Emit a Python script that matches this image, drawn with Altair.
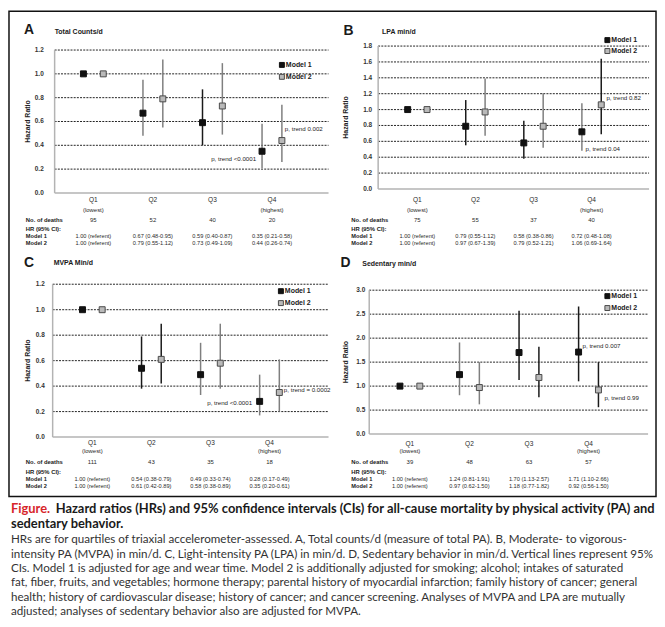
import altair as alt
import pandas as pd

FONT = "Liberation Sans"
CAP_FONT = "Lato"
INK = "#1a1a1a"
MID = "#7f7f7f"
AXIS_GRAY = "#b3b3b3"
OFF = 3  # figure frame sits at this pixel in the reference

quartiles = ["Q1", "Q2", "Q3", "Q4"]
quartile_notes = ["(lowest)", "", "", "(highest)"]
models = ["Model 1", "Model 2"]

# ---- Panel A: Total Counts/d ----
a_deaths = [95, 52, 40, 20]
a_m1_hr = [1.00, 0.67, 0.59, 0.35]
a_m1_lo = [None, 0.48, 0.40, 0.21]
a_m1_hi = [None, 0.95, 0.87, 0.58]
a_m2_hr = [1.00, 0.79, 0.73, 0.44]
a_m2_lo = [None, 0.55, 0.49, 0.26]
a_m2_hi = [None, 1.12, 1.09, 0.74]
a_ticks = [0.0, 0.2, 0.4, 0.6, 0.8, 1.0, 1.2]
a_ptrend = ["p, trend <0.0001", "p, trend 0.002"]

# ---- Panel B: LPA min/d ----
b_deaths = [75, 55, 37, 40]
b_m1_hr = [1.00, 0.79, 0.58, 0.72]
b_m1_lo = [None, 0.55, 0.38, 0.48]
b_m1_hi = [None, 1.12, 0.86, 1.08]
b_m2_hr = [1.00, 0.97, 0.79, 1.06]
b_m2_lo = [None, 0.67, 0.52, 0.69]
b_m2_hi = [None, 1.39, 1.21, 1.64]
b_ticks = [0.0, 0.2, 0.4, 0.6, 0.8, 1.0, 1.2, 1.4, 1.6, 1.8]
b_ptrend = ["p, trend 0.04", "p, trend 0.82"]

# ---- Panel C: MVPA Min/d ----
c_deaths = [111, 43, 35, 18]
c_m1_hr = [1.00, 0.54, 0.49, 0.28]
c_m1_lo = [None, 0.38, 0.33, 0.17]
c_m1_hi = [None, 0.79, 0.74, 0.49]
c_m2_hr = [1.00, 0.61, 0.58, 0.35]
c_m2_lo = [None, 0.42, 0.38, 0.20]
c_m2_hi = [None, 0.89, 0.89, 0.61]
c_ticks = [0.0, 0.2, 0.4, 0.6, 0.8, 1.0, 1.2]
c_ptrend = ["p, trend <0.0001", "p, trend = 0.0002"]

# ---- Panel D: Sedentary min/d ----
d_deaths = [39, 48, 63, 57]
d_m1_hr = [1.00, 1.24, 1.70, 1.71]
d_m1_lo = [None, 0.81, 1.13, 1.10]
d_m1_hi = [None, 1.91, 2.57, 2.66]
d_m2_hr = [1.00, 0.97, 1.18, 0.92]
d_m2_lo = [None, 0.62, 0.77, 0.56]
d_m2_hi = [None, 1.50, 1.82, 1.50]
d_ticks = [0.0, 0.5, 1.0, 1.5, 2.0, 2.5, 3.0]
d_ptrend = ["p, trend 0.007", "p, trend 0.99"]

# style: shade of each CI line (as in the original figure)
a_shade = [[None, "mid", "dark", "mid"], [None, "mid", "mid", "mid"]]
b_shade = [[None, "dark", "dark", "mid"], [None, "mid", "mid", "dark"]]
c_shade = [[None, "dark", "mid", "mid"], [None, "dark", "mid", "mid"]]
d_shade = [[None, "mid", "dark", "dark"], [None, "mid", "dark", "dark"]]

caption_head = "Figure."
caption_bold = [
    "Hazard ratios (HRs) and 95% confidence intervals (CIs) for all-cause mortality by physical activity (PA) and",
    "sedentary behavior.",
]
caption_body = [
    "HRs are for quartiles of triaxial accelerometer-assessed. A, Total counts/d (measure of total PA). B, Moderate- to vigorous-",
    "intensity PA (MVPA) in min/d. C, Light-intensity PA (LPA) in min/d. D, Sedentary behavior in min/d. Vertical lines represent 95%",
    "CIs. Model 1 is adjusted for age and wear time. Model 2 is additionally adjusted for smoking; alcohol; intakes of saturated",
    "fat, fiber, fruits, and vegetables; hormone therapy; parental history of myocardial infarction; family history of cancer; general",
    "health; history of cardiovascular disease; history of cancer; and cancer screening. Analyses of MVPA and LPA are mutually",
    "adjusted; analyses of sedentary behavior also are adjusted for MVPA.",
]


def P(v):
    return v - OFF


def hr_text(hr, lo, hi):
    if lo is None:
        return f"{hr:.2f} (referent)"
    return f"{hr:.2f} ({lo:.2f}-{hi:.2f})"


def one(text):
    return pd.DataFrame({"t": [text]})


def label(text, x, y, size=7, weight="bold", align="left", color=INK, angle=0, font=FONT):
    return alt.Chart(one(text)).mark_text(
        align=align, baseline="middle", fontSize=size, fontWeight=weight,
        color=color, font=font, angle=angle
    ).encode(x=alt.value(P(x)), y=alt.value(P(y)), text="t:N")


def make_panel(letter, title, deaths, m1, m2, shade, ticks, ptrend, L):
    x0, x1, y0, y1 = P(L["x0"]), P(L["x1"]), P(L["y0"]), P(L["y1"])
    xs = alt.Scale(domain=L["xdom"], range=[x0, x1], nice=False, zero=False)
    ys = alt.Scale(domain=[0, ticks[-1]], range=[y1, y0], nice=False, zero=False)

    rows = []
    for i in range(4):
        for k, (m, s) in enumerate(zip([m1, m2], shade)):
            rows.append(dict(q=i + 1, model=models[k], hr=m[0][i], lo=m[1][i],
                             hi=m[2][i], shade=s[i]))
    df = pd.DataFrame(rows)
    tick_df = pd.DataFrame({"v": ticks})

    grid = alt.Chart(tick_df).transform_filter("datum.v > 0").mark_rule(
        color="#222222", strokeDash=[2, 1.2], strokeWidth=1
    ).encode(y=alt.Y("v:Q", scale=ys, axis=None), x=alt.value(x0), x2=alt.value(x1))
    tick_labels = alt.Chart(tick_df).mark_text(
        align="right", baseline="middle", fontSize=6.5, fontWeight="bold",
        color="#333333", font=FONT
    ).encode(y=alt.Y("v:Q", scale=ys, axis=None), x=alt.value(P(L["lab_r"])),
             text=alt.Text("v:Q", format=".1f"))
    y_line = alt.Chart(one("y")).mark_rule(color=AXIS_GRAY, strokeWidth=1.5).encode(
        x=alt.value(x0), y=alt.value(y0), y2=alt.value(y1))
    x_line = alt.Chart(one("x")).mark_rule(color=AXIS_GRAY, strokeWidth=1.5).encode(
        x=alt.value(x0), x2=alt.value(x1), y=alt.value(y1))
    y_title = label("Hazard Ratio", L["ytitle"], (L["y0"] + L["y1"]) / 2, 7, "bold",
                    "center", "#222222", 270)

    base = alt.Chart(df).transform_calculate(
        xp="datum.q + (datum.model === 'Model 1' ? -1 : 1) / 6")
    X = alt.X("xp:Q", scale=xs, axis=None)
    ci = base.transform_filter("isValid(datum.lo)").mark_rule(strokeWidth=1.5).encode(
        x=X, y=alt.Y("lo:Q", scale=ys, axis=None), y2="hi:Q",
        color=alt.Color("shade:N", scale=alt.Scale(domain=["dark", "mid"], range=[INK, MID]),
                        legend=None))
    pts = base.mark_square(size=36, opacity=1, strokeWidth=1).encode(
        x=X, y=alt.Y("hr:Q", scale=ys, axis=None),
        fill=alt.Fill("model:N", scale=alt.Scale(domain=models, range=["#111111", "#b9b9b9"]),
                      legend=None),
        stroke=alt.Stroke("model:N", scale=alt.Scale(domain=models, range=["#111111", "#4a4a4a"]),
                          legend=None))

    tdf = pd.DataFrame(dict(
        q=[1, 2, 3, 4], qlab=quartiles, note=quartile_notes,
        deaths=[str(v) for v in deaths],
        m1t=[hr_text(m1[0][i], m1[1][i], m1[2][i]) for i in range(4)],
        m2t=[hr_text(m2[0][i], m2[1][i], m2[2][i]) for i in range(4)],
    ))
    ty = L["ty"]
    table = []
    for col, y, size in [("qlab", ty[0], 6.6), ("note", ty[1], 6),
                         ("deaths", ty[2], 6), ("m1t", ty[4], 5.7), ("m2t", ty[5], 5.7)]:
        table.append(alt.Chart(tdf).mark_text(
            baseline="middle", fontSize=size, color="#2a2a2a", font=FONT
        ).encode(x=alt.X("q:Q", scale=xs, axis=None), y=alt.value(P(y)), text=f"{col}:N"))
    lx = L["lx"]
    table += [label("No. of deaths", lx, ty[2], 5.9), label("HR (95% CI):", lx, ty[3], 5.9),
              label(models[0], lx, ty[4], 5.7), label(models[1], lx, ty[5], 5.7)]

    head = [label(letter, L["letter"][0], L["letter"][1], 14, 900),
            label(title, L["title"][0], L["title"][1], 7)]
    lg = []
    for k, m in enumerate(models):
        lgx, lgy = L["legend"][k]
        lg.append(alt.Chart(one(m)).mark_square(
            size=25, opacity=1, strokeWidth=1,
            fill=["#111111", "#b9b9b9"][k], stroke=["#111111", "#4a4a4a"][k]
        ).encode(x=alt.value(P(lgx)), y=alt.value(P(lgy))))
        lg.append(label(m, lgx + 4, lgy, 7))
    pt = [label(t, px, py, 6.2, "normal", al) for t, (px, py, al) in zip(ptrend, L["ptrend"])]

    return alt.layer(grid, y_line, x_line, tick_labels, y_title, ci, pts,
                     *table, *head, *lg, *pt)


LA = dict(x0=49, x1=325, y0=42, y1=186, xdom=[0.35, 4.95], lab_r=38, ytitle=22,
          letter=(18, 22), title=(49, 24), legend=[(278, 57), (278, 69)],
          ptrend=[(252, 152, "right"), (281, 122, "left")],
          ty=[193, 203, 213, 222, 229, 236], lx=20)
LB = dict(x0=375, x1=648, y0=38, y1=182, xdom=[0.325, 4.99], lab_r=369, ytitle=343,
          letter=(340, 23), title=(379, 24), legend=[(606, 32), (606, 43)],
          ptrend=[(584, 142, "left"), (605, 90, "left")],
          ty=[193, 203, 213, 222, 229, 236], lx=348)
LC = dict(x0=47, x1=325, y0=278, y1=432, xdom=[0.328, 5.0], lab_r=39, ytitle=22,
          letter=(18, 257), title=(48, 257), legend=[(277, 285), (277, 297)],
          ptrend=[(248, 398, "right"), (280, 385, "left")],
          ty=[438, 446, 457, 467, 474, 481], lx=20)
LD = dict(x0=366, x1=647, y0=284, y1=429, xdom=[0.317, 5.0], lab_r=362, ytitle=343,
          letter=(337, 257), title=(359, 258), legend=[(606, 290), (606, 302)],
          ptrend=[(581, 340, "left"), (603, 393, "left")],
          ty=[439, 446, 457, 467, 474, 481], lx=348)

pA = make_panel("A", "Total Counts/d", a_deaths, (a_m1_hr, a_m1_lo, a_m1_hi),
                (a_m2_hr, a_m2_lo, a_m2_hi), a_shade, a_ticks, a_ptrend, LA)
pB = make_panel("B", "LPA min/d", b_deaths, (b_m1_hr, b_m1_lo, b_m1_hi),
                (b_m2_hr, b_m2_lo, b_m2_hi), b_shade, b_ticks, b_ptrend, LB)
pC = make_panel("C", "MVPA Min/d", c_deaths, (c_m1_hr, c_m1_lo, c_m1_hi),
                (c_m2_hr, c_m2_lo, c_m2_hi), c_shade, c_ticks, c_ptrend, LC)
pD = make_panel("D", "Sedentary min/d", d_deaths, (d_m1_hr, d_m1_lo, d_m1_hi),
                (d_m2_hr, d_m2_lo, d_m2_hi), d_shade, d_ticks, d_ptrend, LD)

frame = alt.Chart(one("frame")).mark_rect(
    filled=False, stroke="#111111", strokeWidth=1.5
).encode(x=alt.value(P(3)), x2=alt.value(P(655)), y=alt.value(P(3)), y2=alt.value(P(492)))

cap_layers = [label(caption_head, 5, 505, 13, "bold", "left", "#d7262b", font=CAP_FONT),
              label(caption_bold[0], 50, 505, 13, "bold", "left", "#1a1a1a", font=CAP_FONT),
              label(caption_bold[1], 5, 520, 13, "bold", "left", "#1a1a1a", font=CAP_FONT)]
for i, line in enumerate(caption_body):
    cap_layers.append(label(line, 5, 535 + i * 14.5, 11.7, "normal", "left", "#333333",
                            font=CAP_FONT))

chart = alt.layer(pA, pB, pC, pD, frame, *cap_layers).resolve_scale(
    x="independent", y="independent"
).properties(width=652, height=600, padding=0).configure_view(stroke=None)

chart.save("out.html", embed_options={"renderer": "svg", "actions": False})
